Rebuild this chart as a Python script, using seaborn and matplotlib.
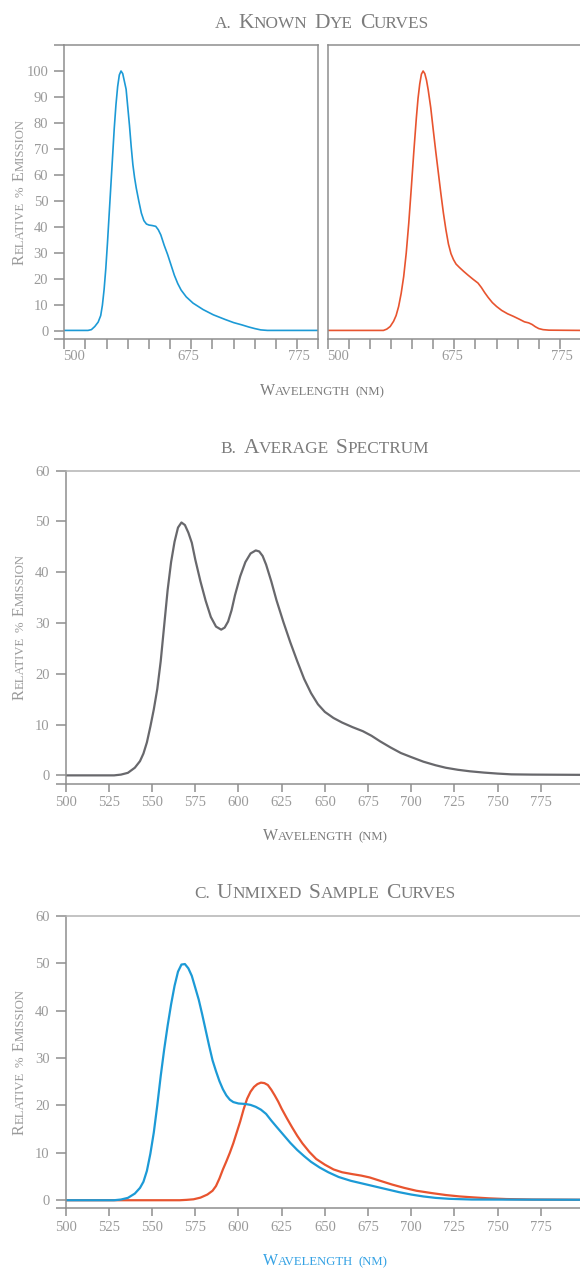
import matplotlib
matplotlib.use('Agg')
import numpy as np
import pandas as pd
import matplotlib.pyplot as plt
import seaborn as sns

# ---- data ----
# a. known dye curves
dye1_nm = [500, 528, 532, 536, 540, 543, 545, 547, 549, 551, 553, 555, 557, 559, 561, 563, 565, 567, 569, 571,
           573, 575, 577, 579, 581, 583, 585, 588, 591, 594, 597, 600, 604, 608, 611, 614, 618, 622, 626, 630,
           634, 638, 644, 652, 664, 676, 690, 700, 710, 718, 725, 732, 740, 800]
dye1_val = [0.3, 0.3, 0.6, 1.8, 3.5, 6, 10, 16, 24, 34, 45, 56, 67, 78, 87, 94, 98.5, 100, 99, 96,
            93, 86, 79, 71, 64, 59, 55, 50, 45.4, 42.5, 41.2, 40.8, 40.6, 40.3, 39, 37, 33, 29.5, 25.5, 21.5,
            18.3, 15.8, 13.2, 10.8, 8.3, 6.3, 4.5, 3.3, 2.4, 1.6, 1.0, 0.5, 0.3, 0.3]
dye2_nm = [500, 566, 570, 574, 578, 581, 584, 587, 590, 593, 596, 599, 602, 605, 607, 609, 611, 613, 615, 617,
           619, 622, 625, 628, 631, 634, 637, 640, 643, 646, 649, 652, 656, 661, 666, 672, 678, 682, 686, 690,
           695, 700, 706, 713, 720, 727, 733, 738, 742, 746, 750, 755, 762, 800]
dye2_val = [0.3, 0.3, 0.8, 1.8, 3.8, 6, 9.5, 14.5, 21, 30, 41.5, 55, 69, 82, 89.5, 95, 98.8, 100, 99, 96.5,
            92.8, 86, 77.4, 69, 61, 53, 45.5, 39, 33.5, 29.8, 27.5, 25.8, 24.5, 23, 21.6, 20, 18.5, 16.8, 14.8, 13,
            11, 9.5, 8, 6.7, 5.7, 4.6, 3.6, 3.2, 2.6, 1.7, 1.0, 0.6, 0.4, 0.3]

# b. average spectrum
avg_nm = [500, 528, 532, 536, 540, 543, 545, 547, 549, 551, 553, 555, 557, 559, 561, 563, 565, 567, 569, 571,
          573, 575, 578, 581, 584, 587, 590, 592, 594, 596, 598, 601, 604, 607, 610, 612, 614, 616, 619, 622,
          626, 630, 634, 638, 642, 646, 650, 655, 660, 666, 672, 677, 682, 688, 694, 700, 707, 714, 720, 727,
          734, 742, 750, 758, 770, 800]
avg_val = [0, 0, 0.15, 0.5, 1.5, 2.8, 4.3, 6.5, 9.6, 13, 17, 22.5, 29.5, 36.5, 42, 46, 48.8, 49.8, 49.3, 47.8,
           45.8, 42.5, 38.2, 34.4, 31.2, 29.3, 28.7, 29.1, 30.3, 32.5, 35.5, 39.2, 42, 43.7, 44.3, 44.1, 43.2,
           41.5, 38.2, 34.5, 30.2, 26.2, 22.5, 19, 16.2, 14, 12.5, 11.3, 10.4, 9.5, 8.7, 7.8, 6.7, 5.5, 4.4, 3.6,
           2.7, 2.0, 1.5, 1.1, 0.8, 0.55, 0.35, 0.2, 0.15, 0.1]

# c. unmixed sample curves
mix1_nm = [500, 528, 532, 536, 540, 543, 545, 547, 549, 551, 553, 555, 557, 559, 561, 563, 565, 567, 569, 571,
           573, 575, 577, 579, 581, 583, 585, 587, 589, 591, 593, 595, 597, 600, 604, 607, 610, 613, 616, 619,
           622, 626, 630, 634, 638, 642, 647, 652, 658, 665, 672, 679, 686, 693, 700, 707, 714, 722, 735, 800]
mix1_val = [0, 0, 0.15, 0.5, 1.4, 2.6, 3.9, 6.2, 9.8, 14.3, 20, 26.2, 31.8, 36.8, 41.3, 45.2, 48.2, 49.7, 49.8,
            48.9, 47.3, 44.8, 42.3, 39.2, 35.9, 32.6, 29.5, 27.2, 25.1, 23.4, 22.1, 21.2, 20.7, 20.4, 20.3, 20.1,
            19.7, 19.1, 18.2, 16.8, 15.5, 13.8, 12.1, 10.6, 9.3, 8.1, 6.9, 5.9, 4.9, 4.1, 3.5, 2.9, 2.3, 1.7, 1.2,
            0.8, 0.5, 0.3, 0.15, 0.1]
mix2_nm = [500, 566, 570, 574, 578, 582, 585, 587, 589, 591, 593, 595, 597, 599, 601, 603, 605, 607, 609, 611,
           613, 615, 617, 619, 621, 623, 625, 628, 631, 634, 637, 641, 645, 650, 655, 660, 666, 671, 676, 682,
           689, 696, 703, 712, 720, 728, 736, 745, 755, 770, 800]
mix2_val = [0, 0, 0.08, 0.2, 0.55, 1.2, 2.0, 3.0, 4.6, 6.5, 8.2, 10, 12, 14.3, 16.6, 19.2, 21.4, 22.9, 23.9,
            24.5, 24.8, 24.7, 24.3, 23.3, 22.1, 20.8, 19.3, 17.3, 15.4, 13.6, 12, 10.2, 8.7, 7.5, 6.5, 5.9, 5.5,
            5.2, 4.8, 4.1, 3.3, 2.6, 2.0, 1.5, 1.1, 0.8, 0.6, 0.4, 0.25, 0.15, 0.1]

titles = ['a. Known Dye Curves', 'b. Average Spectrum', 'c. Unmixed Sample Curves']
xlabel = 'Wavelength (nm)'
ylabel = 'Relative % Emission'
dye_tick_pos = [512, 647, 777]
dye_tick_labels = ['500', '675', '775']

BLUE = '#1c9ad6'
RED = '#e8542f'
GREY = '#68686c'
SPINE = '#8e8e8e'
TOP = '#b3b3b3'
TICK = '#9a9a9a'
TXT = '#7c7c7c'

sns.set_theme(style='white')
plt.rcParams['font.family'] = ['Liberation Serif', 'DejaVu Serif']

W, H = 580, 1268
fig = plt.figure(figsize=(W / 100, H / 100), dpi=100)


def add_axes(left, top, right, bottom):
    return fig.add_axes([left / W, 1 - bottom / H, (right - left) / W, (bottom - top) / H])


def small_caps(cx, cy, s, size, color, rotation=0, ratio=0.8):
    # fake small caps: capitals/digits at full size, the rest upper-cased at a smaller size
    r = fig.canvas.get_renderer()
    runs = []
    for ch in s:
        kind = 'sp' if ch == ' ' else ('big' if ch.isupper() or ch.isdigit() else 'small')
        if runs and runs[-1][1] == kind and kind != 'sp':
            runs[-1][0] += ch
        else:
            runs.append([ch, kind])
    items = []
    for txt, kind in runs:
        if kind == 'sp':
            items.append((None, size * 0.32 * 100 / 72))
            continue
        fs = size * ratio if kind == 'small' else size
        t = fig.text(0, 0, txt.upper(), fontsize=fs, color=color, rotation=rotation,
                     rotation_mode='anchor', ha='left', va='baseline')
        bb = t.get_window_extent(r)
        items.append((t, bb.height if rotation else bb.width))
    total = sum(w for _, w in items)
    cap = size * 100 / 72 * 0.66
    p = -total / 2
    for t, w in items:
        if t is not None:
            if rotation:
                t.set_position(((cx + cap / 2) / W, 1 - (cy - p) / H))
            else:
                t.set_position(((cx + p) / W, 1 - (cy + cap / 2) / H))
        p += w


def style(ax, ylo, yhi, yticks, show_y=True):
    ax.set_xlim(500, 800)
    ax.set_ylim(ylo, yhi)
    ax.set_xlabel('')
    ax.set_ylabel('')
    for sp in ax.spines.values():
        sp.set_color(SPINE)
        sp.set_linewidth(1.1)
    if show_y:
        ax.set_yticks([ylo] + yticks + [yhi], labels=[''] + [str(v) for v in yticks] + [''])
    else:
        ax.set_yticks([])
    ax.tick_params(axis='y', which='major', left=show_y, direction='out', length=7, width=1.1,
                   color=SPINE, pad=4.5, labelsize=10.5, labelcolor=TICK)
    ax.tick_params(axis='x', which='both', bottom=True, direction='out', width=1.1,
                   color=SPINE, pad=3, labelsize=10.5, labelcolor=TICK)


# ---- panel a ----
axA1 = add_axes(64.3, 45, 318.3, 339)
axA2 = add_axes(327.7, 45, 581, 339)
sns.lineplot(x=dye1_nm, y=dye1_val, ax=axA1, color=BLUE, linewidth=1.2)
sns.lineplot(x=dye2_nm, y=dye2_val, ax=axA2, color=RED, linewidth=1.2)
for ax, show in [(axA1, True), (axA2, False)]:
    style(ax, -3, 110, list(range(0, 101, 10)), show_y=show)
    ax.set_xticks(dye_tick_pos, labels=dye_tick_labels)
    ax.set_xticks(np.arange(500, 801, 25), minor=True)
    ax.tick_params(axis='x', which='major', length=0, pad=8)
    ax.tick_params(axis='x', which='minor', length=7)
axA2.spines['right'].set_visible(False)

# ---- panel b ----
axB = add_axes(65.7, 470.7, 584, 784)
sns.lineplot(x=avg_nm, y=avg_val, ax=axB, color=GREY, linewidth=1.6)

# ---- panel c ----
axC = add_axes(65.7, 915.7, 584, 1208.3)
sns.lineplot(x=mix2_nm, y=mix2_val, ax=axC, color=RED, linewidth=1.6)
sns.lineplot(x=mix1_nm, y=mix1_val, ax=axC, color=BLUE, linewidth=1.6)

for ax in [axB, axC]:
    style(ax, -1.7, 60, list(range(0, 61, 10)))
    ax.set_yticks([-1.7, 0, 10, 20, 30, 40, 50, 60], labels=['', '0', '10', '20', '30', '40', '50', '60'])
    ax.set_xticks(np.arange(500, 800, 25))
    ax.tick_params(axis='x', which='major', length=6)
    ax.spines['right'].set_visible(False)
    ax.spines['top'].set_color(TOP)

# ---- text ----
small_caps(322, 21, titles[0], 15.5, TXT)
small_caps(325, 446, titles[1], 15.5, TXT)
small_caps(325, 891, titles[2], 15.5, TXT)
small_caps(322, 390, xlabel, 11.5, TXT)
small_caps(325, 835, xlabel, 11.5, TXT)
small_caps(325, 1260, xlabel, 11.5, '#35a2e4')
for cy in [192, 627, 1062]:
    small_caps(18, cy, ylabel, 11.5, TICK, rotation=90)

fig.savefig('out.png', dpi=100)
